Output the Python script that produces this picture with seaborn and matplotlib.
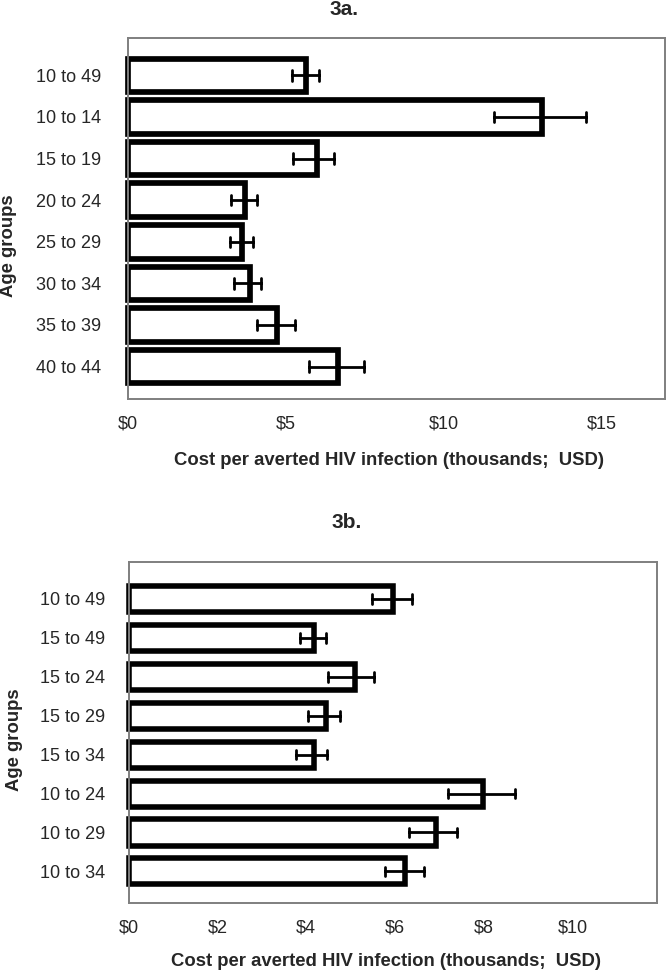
import numpy as np
import pandas as pd
import matplotlib
matplotlib.use("Agg")
import matplotlib.pyplot as plt
import seaborn as sns
from matplotlib.ticker import StrMethodFormatter

# panel 3a
groups_a = ["10 to 49", "10 to 14", "15 to 19", "20 to 24",
            "25 to 29", "30 to 34", "35 to 39", "40 to 44"]
cost_a = [5.65, 13.1, 6.0, 3.72, 3.63, 3.86, 4.74, 6.66]
low_a = [5.2, 11.6, 5.24, 3.27, 3.23, 3.37, 4.1, 5.75]
high_a = [6.05, 14.5, 6.52, 4.11, 3.98, 4.22, 5.3, 7.48]

# panel 3b
groups_b = ["10 to 49", "15 to 49", "15 to 24", "15 to 29",
            "15 to 34", "10 to 24", "10 to 29", "10 to 34"]
cost_b = [5.95, 4.17, 5.09, 4.44, 4.17, 7.97, 6.91, 6.23]
low_b = [5.47, 3.86, 4.5, 4.03, 3.78, 7.2, 6.32, 5.77]
high_b = [6.37, 4.44, 5.53, 4.75, 4.47, 8.69, 7.4, 6.66]

sns.set_style("white")
plt.rcParams['font.family'] = ['Liberation Sans', 'DejaVu Sans']


def long_table(groups, cost, low, high):
    # three rows per group -> median is the bar, min/max the error bar
    rows = []
    for g, c, lo, hi in zip(groups, cost, low, high):
        for v in (lo, c, hi):
            rows.append({"group": g, "cost": v})
    return pd.DataFrame(rows)


def draw(ax, df, order, width, lw, cap, xmax, xticks, ylim, ypad):
    sns.barplot(data=df, x="cost", y="group", order=order, orient="h",
                estimator="median", errorbar=lambda v: (v.min(), v.max()),
                color="white", edgecolor="black", linewidth=lw, width=width,
                saturation=1, capsize=cap,
                err_kws={"color": "black", "linewidth": 2.0}, ax=ax)
    for p in ax.patches:
        p.set_clip_on(False)
    ax.set_xlim(0, xmax)
    ax.set_ylim(*ylim)
    ax.set_xticks(xticks)
    ax.xaxis.set_major_formatter(StrMethodFormatter("${x:.0f}"))
    ax.tick_params(axis="both", length=0, labelsize=13)
    ax.tick_params(axis="y", pad=ypad)
    ax.tick_params(axis="x", pad=12.0)
    ax.set_xlabel("")
    ax.set_ylabel("")
    for s in ax.spines.values():
        s.set_visible(True)
        s.set_color("#7f7f7f")
        s.set_linewidth(1.4)


fig = plt.figure(figsize=(6.67, 9.73), dpi=100)
ax_a = fig.add_axes([0.1913, 0.5899, 0.8054, 0.3711])
ax_b = fig.add_axes([0.1927, 0.0716, 0.7926, 0.3505])

draw(ax_a, long_table(groups_a, cost_a, low_a, high_a), groups_a,
     0.81, 4.1, 0.25, 17, [0, 5, 10, 15], (7.78, -0.9), 19.0)
draw(ax_b, long_table(groups_b, cost_b, low_b, high_b), groups_b,
     0.67, 4.0, 0.25, 11.9, [0, 2, 4, 6, 8, 10], (7.82, -0.94), 16.6)

bold = dict(fontsize=13.3, fontweight="bold", ha="center", va="center")
fig.text(0.516, 0.9905, "3a.", fontsize=15, fontweight="bold", ha="center", va="center")
fig.text(0.520, 0.4627, "3b.", fontsize=15, fontweight="bold", ha="center", va="center")
fig.text(0.583, 0.5272, "Cost per averted HIV infection (thousands;  USD)", **bold)
fig.text(0.578, 0.0116, "Cost per averted HIV infection (thousands;  USD)", **bold)
fig.text(0.0128, 0.748, "Age groups", rotation=90, **bold)
fig.text(0.021, 0.2395, "Age groups", rotation=90, **bold)

fig.savefig("out.png", dpi=100)
